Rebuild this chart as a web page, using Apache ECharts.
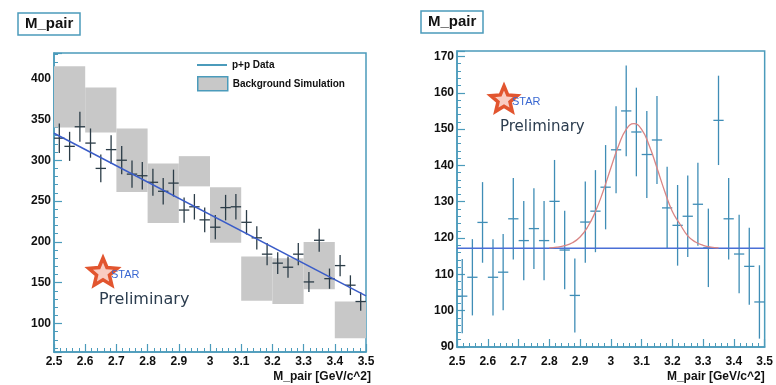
<!DOCTYPE html>
<html><head><meta charset="utf-8">
<script src="https://cdn.jsdelivr.net/npm/echarts@6/dist/echarts.min.js"></script>
<style>html,body{margin:0;padding:0;background:#fff}#c{width:776px;height:385px}</style>
</head><body><div id="c"></div>
<script>
// ---------- data ----------
const binCenters = [2.517,2.55,2.583,2.617,2.65,2.683,2.717,2.75,2.783,2.817,2.85,2.883,2.917,2.95,2.983,
                    3.017,3.05,3.083,3.117,3.15,3.183,3.217,3.25,3.283,3.317,3.35,3.383,3.417,3.45,3.483];
const halfBin = 0.0167;

// left panel: p+p data
const leftValues = [327,317,341,321,290,313,300,283,281,273,262,272,239,243,227,
                    218,242,243,224,205,185,174,169,185,151,202,155,171,147,127];
const leftErrors = [18,17.8,18.5,17.9,17,17.7,17.3,16.8,16.8,16.5,16.2,16.5,15.5,15.6,15.1,
                    14.8,15.6,15.6,15,14.3,13.6,13.2,13,13.6,12.3,14.2,12.4,13.1,12.1,11.3];
// left panel: background simulation boxes
const bgLeftEdge  = [2.5,2.6,2.7,2.8,2.9,3.0,3.1,3.2,3.3,3.4];
const bgRightEdge = [2.6,2.7,2.8,2.9,3.0,3.1,3.2,3.3,3.4,3.5];
const bgLow  = [340,334,261,223,268,199,128,124,142,82];
const bgHigh = [415,389,339,296,305,267,182,180,200,127];
// left panel: linear fit
const fitX = [2.5,3.5];
const fitY = [333,134];

// right panel: p+p data after subtraction
const rightValues = [104,109.2,124.3,109.2,110.6,125.3,119.3,122.6,119.3,130.1,116.7,104.2,124.4,127.4,134,
                     144.3,155,149.2,143,147,128.3,123.5,126,129.3,117.3,152.4,125.3,115.6,112.2,102.4];
const rightErrors = [10.2,10.5,11.1,10.5,10.5,11.2,10.9,11.1,10.9,11.4,10.8,10.2,11.2,11.3,11.6,
                     12,12.5,12.2,12,12.1,11.3,11.1,11.2,11.4,10.8,12.3,11.2,10.8,10.6,10.1];
const baseX = [2.5,3.5];
const baseY = [117.2,117.2];
const gaussX = [2.8,2.825,2.85,2.875,2.9,2.925,2.95,2.975,3.0,3.025,3.05,3.075,3.1,3.125,3.15,3.175,3.2,3.225,3.25,3.275,3.3,3.325,3.35];
const gaussY = [117.3,117.5,117.9,118.7,120.3,123.1,127.3,132.9,139.3,145.4,149.9,151.5,149.9,145.4,139.3,132.9,127.3,123.8,120.6,118.9,118,117.5,117.3];

const xTicks = [2.5,2.6,2.7,2.8,2.9,3.0,3.1,3.2,3.3,3.4,3.5];

// ---------- styling ----------
const teal = '#4b9bbb';
const FONT = 'Liberation Sans, Arial, sans-serif';

function crossRender(color){
  return function(params, api){
    const x = api.value(0), y = api.value(1), e = api.value(2);
    const pL = api.coord([x - halfBin, y]), pR = api.coord([x + halfBin, y]);
    const pT = api.coord([x, y + e]), pB = api.coord([x, y - e]);
    return {type:'group', children:[
      {type:'line', shape:{x1:pL[0],y1:pL[1],x2:pR[0],y2:pR[1]}, style:{stroke:color, lineWidth:1.3}},
      {type:'line', shape:{x1:pT[0],y1:pT[1],x2:pB[0],y2:pB[1]}, style:{stroke:color, lineWidth:1.3}}
    ]};
  };
}
function boxRender(params, api){
  const p0 = api.coord([api.value(0), api.value(3)]);
  const p1 = api.coord([api.value(1), api.value(2)]);
  return {type:'rect', shape:{x:p0[0], y:p0[1], width:p1[0]-p0[0], height:p1[1]-p0[1]},
          style:{fill:'#c8c8c8'}};
}

function xAxisOpt(gi, labelMargin, nameGap, namePad){
  return {type:'value', gridIndex:gi, min:2.5, max:3.5, interval:0.1,
    axisLine:{show:true, onZero:false, lineStyle:{color:teal, width:1.5}},
    axisTick:{show:true, inside:true, length:8, lineStyle:{color:teal, width:1.2}},
    minorTick:{show:true, splitNumber:5, length:4, lineStyle:{color:teal, width:1}},
    splitLine:{show:false}, minorSplitLine:{show:false},
    axisLabel:{color:'#111', fontFamily:FONT, fontWeight:'bold', fontSize:12, margin:labelMargin},
    name:'M_pair [GeV/c^2]', nameLocation:'end', nameGap:nameGap,
    nameTextStyle:{color:'#111', fontFamily:FONT, fontWeight:'bold', fontSize:12,
      align:'right', verticalAlign:'top', padding:[namePad,0,0,0]}
  };
}
function yAxisCommon(){
  return {
    axisLine:{show:true, onZero:false, lineStyle:{color:teal, width:1.5}},
    axisTick:{show:true, inside:true, length:8, lineStyle:{color:teal, width:1.2}},
    minorTick:{show:true, splitNumber:5, length:4, lineStyle:{color:teal, width:1}},
    splitLine:{show:false}, minorSplitLine:{show:false}
  };
}

function starPoints(cx, cy, R){
  const pts = [];
  for (let k = 0; k < 10; k++){
    const r = k % 2 === 0 ? R : R * 0.45;
    const a = -Math.PI/2 + k * Math.PI/5;
    pts.push([cx + r*Math.cos(a), cy + r*Math.sin(a)]);
  }
  return pts;
}
function starLogo(cx, cy, R, prelimX, prelimY, prelimSize){
  return [
    {type:'polygon', shape:{points:starPoints(cx,cy,R)}, style:{fill:'rgba(238,110,80,0.35)', stroke:'#e2552f', lineWidth:3.5}, z:10},
    {type:'text', x:cx+8, y:cy+2, style:{text:'STAR', fill:'#3a68d2', font:'11px '+FONT, textVerticalAlign:'middle'}, z:11},
    {type:'text', x:prelimX, y:prelimY, style:{text:'Preliminary', fill:'#2c3d4f', font:prelimSize+'px DejaVu Sans, sans-serif', textVerticalAlign:'middle'}, z:11}
  ];
}

const chart = echarts.init(document.getElementById('c'), null, {renderer:'canvas'});
chart.setOption({
  backgroundColor:'#ffffff',
  animation:false,
  title:[
    {text:'M_pair', left:18, top:13, padding:[3,7,3,7], borderColor:teal, borderWidth:1.5,
     textStyle:{fontFamily:FONT, fontWeight:'bold', fontSize:15, color:'#111', lineHeight:16}},
    {text:'M_pair', left:421, top:11, padding:[3,7,3,7], borderColor:teal, borderWidth:1.5,
     textStyle:{fontFamily:FONT, fontWeight:'bold', fontSize:15, color:'#111', lineHeight:16}}
  ],
  legend:[
    {left:197, top:60, padding:0, itemWidth:30, itemHeight:2, itemGap:0, selectedMode:false,
     textStyle:{fontFamily:FONT, fontWeight:'bold', fontSize:10, color:'#111'},
     data:[{name:'p+p Data', icon:'rect', itemStyle:{color:teal, borderWidth:0}}]},
    {left:197, top:76, padding:0, itemWidth:30, itemHeight:14, itemGap:0, selectedMode:false,
     textStyle:{fontFamily:FONT, fontWeight:'bold', fontSize:10, color:'#111'},
     data:[{name:'Background Simulation', icon:'rect', itemStyle:{color:'#c8c8c8', borderColor:teal, borderWidth:1.5}}]}
  ],
  grid:[
    {left:54, top:53, width:312, height:299, show:true, borderColor:teal, borderWidth:1.5, backgroundColor:'transparent'},
    {left:457, top:51, width:313.5, height:296, show:true, borderColor:teal, borderWidth:1.5, backgroundColor:'transparent'}
  ],
  xAxis:[ xAxisOpt(0, 4, 5, 19), xAxisOpt(1, 9, 0, 24) ],
  yAxis:[
    Object.assign({type:'value', gridIndex:0, min:65.2, max:431.3, splitNumber:7,
      axisLabel:{color:'#111', fontFamily:FONT, fontWeight:'bold', fontSize:12, margin:3, showMinLabel:false, showMaxLabel:false}}, yAxisCommon()),
    Object.assign({type:'value', gridIndex:1, min:90, max:171.5, interval:10,
      axisLabel:{color:'#111', fontFamily:FONT, fontWeight:'bold', fontSize:12, margin:3, showMaxLabel:false}}, yAxisCommon())
  ],
  series:[
    {name:'Background Simulation', type:'custom', xAxisIndex:0, yAxisIndex:0, renderItem:boxRender, z:1,
     itemStyle:{color:'#c8c8c8'},
     data: bgLeftEdge.map((x0,i)=>[x0, bgRightEdge[i], bgLow[i], bgHigh[i]])},
    {name:'left points', type:'custom', xAxisIndex:0, yAxisIndex:0, renderItem:crossRender('#2b3c47'), z:3,
     data: binCenters.map((x,i)=>[x, leftValues[i], leftErrors[i]])},
    {name:'p+p Data', type:'line', xAxisIndex:0, yAxisIndex:0, showSymbol:false, z:4,
     lineStyle:{color:'#3a5cc8', width:1.5}, itemStyle:{color:teal},
     data: fitX.map((x,i)=>[x, fitY[i]])},
    {name:'right points', type:'custom', xAxisIndex:1, yAxisIndex:1, renderItem:crossRender('#3f8db6'), z:3,
     data: binCenters.map((x,i)=>[x, rightValues[i], rightErrors[i]])},
    {name:'baseline', type:'line', xAxisIndex:1, yAxisIndex:1, showSymbol:false, z:4,
     lineStyle:{color:'#4a6fd6', width:1.5},
     data: baseX.map((x,i)=>[x, baseY[i]])},
    {name:'gauss', type:'line', xAxisIndex:1, yAxisIndex:1, showSymbol:false, smooth:true, z:5,
     lineStyle:{color:'#d98585', width:1.3},
     data: gaussX.map((x,i)=>[x, gaussY[i]])}
  ],
  graphic:[].concat(
    starLogo(103, 273, 15, 99, 300, 16),
    starLogo(504, 100, 14, 500, 127, 15)
  )
});
</script></body></html>
